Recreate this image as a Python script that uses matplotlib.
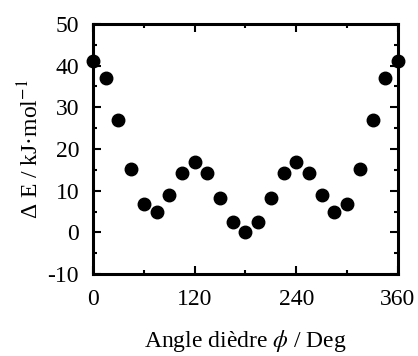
import matplotlib
matplotlib.use("Agg")
import matplotlib.pyplot as plt
from matplotlib.ticker import MultipleLocator

# dihedral angle (deg) and relative energy (kJ/mol)
angle = [0, 15, 30, 45, 60, 75, 90, 105, 120, 135, 150, 165, 180,
         195, 210, 225, 240, 255, 270, 285, 300, 315, 330, 345, 360]
energy = [41.1, 37.1, 26.9, 15.1, 6.7, 5.0, 8.9, 14.3, 16.9, 14.3, 8.2, 2.5, 0.0,
          2.5, 8.2, 14.3, 16.9, 14.3, 8.9, 5.0, 6.7, 15.1, 26.9, 37.1, 41.1]
xticks = [0, 120, 240, 360]

plt.rcParams['font.family'] = ['Liberation Serif', 'DejaVu Serif']
plt.rcParams['mathtext.fontset'] = 'stix'
plt.rcParams['axes.unicode_minus'] = False

fig = plt.figure(figsize=(4.18, 3.56), dpi=100)
ax = fig.add_axes([0.2225, 0.23, 0.7295, 0.703])

ax.plot(angle, energy, 'o', color='black', markersize=9, clip_on=False, zorder=5)

ax.set_xlim(0, 360)
ax.set_ylim(-10, 50)
ax.set_xticks(xticks)
ax.xaxis.set_minor_locator(MultipleLocator(60))
ax.yaxis.set_major_locator(MultipleLocator(10))
ax.yaxis.set_minor_locator(MultipleLocator(5))

for s in ax.spines.values():
    s.set_linewidth(2.2)
ax.tick_params(which='both', direction='in', top=True, right=True, width=1.5, labelsize=17)
ax.tick_params(which='major', length=6)
ax.tick_params(which='minor', length=3)
ax.tick_params(axis='x', pad=11)
ax.tick_params(axis='y', pad=10)

ax.set_xlabel(r'Angle dièdre $\phi$ / Deg', fontsize=17, labelpad=13)
ax.set_ylabel(r'Δ E / kJ·mol$^{-1}$', fontsize=17, labelpad=3)

fig.savefig('out.png', dpi=100)
